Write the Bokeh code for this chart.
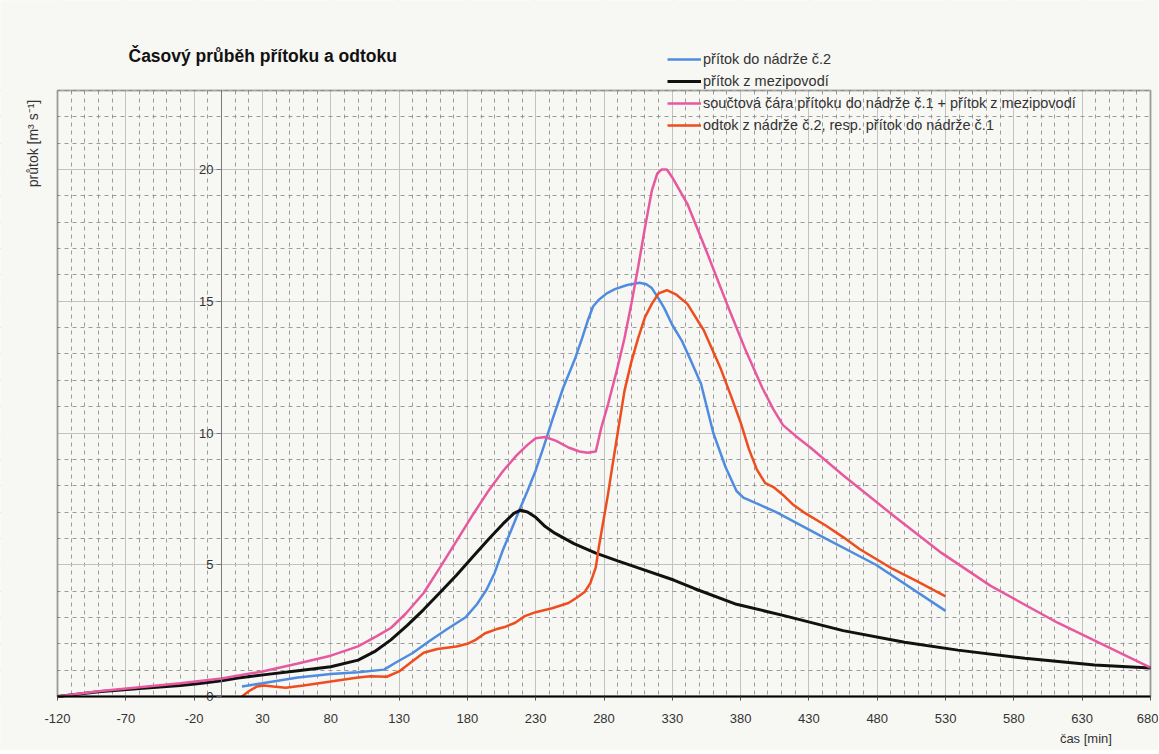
import math
from bokeh.plotting import figure
from bokeh.models import FixedTicker, Label, Legend, LegendItem, Range1d, BoxAnnotation
from bokeh.embed import file_html
from bokeh.resources import INLINE

# ---------------- data ----------------
x_ticks = [-120, -70, -20, 30, 80, 130, 180, 230, 280, 330, 380, 430, 480, 530, 580, 630, 680]
y_ticks = [0, 5, 10, 15, 20]

# přítok do nádrže č.2 (blue)
t_blue = [15, 30, 56, 80, 100, 119, 128, 140, 152, 165, 179, 187, 194, 200, 206, 212, 218, 224,
          230, 236, 242, 250, 259, 264, 268, 272, 276, 282, 288, 297, 306, 311, 315, 320, 324, 330,
          337, 344, 351, 360, 369, 377, 382, 395, 406, 442, 479, 530]
q_blue = [0.38, 0.5, 0.72, 0.85, 0.92, 1.02, 1.3, 1.65, 2.1, 2.55, 3.02, 3.5, 4.05, 4.7, 5.56, 6.3, 7.07, 7.8,
          8.58, 9.5, 10.47, 11.7, 12.85, 13.6, 14.25, 14.8, 15.05, 15.3, 15.46, 15.62, 15.7, 15.65, 15.5, 15.1, 14.75, 14.1,
          13.5, 12.7, 11.87, 10.0, 8.7, 7.8, 7.55, 7.25, 7.0, 6.0, 5.0, 3.25]

# přítok z mezipovodí (black)
t_black = [-120, -90, -60, -30, -16, 0, 12, 32, 56, 80, 100, 112, 124, 136, 148, 160, 172, 184, 196, 206,
           214, 219, 224, 230, 237, 244, 258, 274, 290, 305, 331, 346, 377, 411, 455, 500, 539, 588, 639, 680]
q_black = [0.0, 0.18, 0.3, 0.42, 0.49, 0.6, 0.7, 0.83, 0.98, 1.13, 1.38, 1.7, 2.15, 2.7, 3.3, 3.95, 4.6, 5.3, 6.0, 6.55,
           6.95, 7.07, 7.0, 6.8, 6.45, 6.2, 5.8, 5.44, 5.15, 4.88, 4.42, 4.1, 3.5, 3.08, 2.5, 2.06, 1.76, 1.45, 1.2, 1.08]

# součtová čára přítoku do nádrže č.1 + přítok z mezipovodí (pink)
t_pink = [-120, -90, -60, -30, 0, 30, 56, 80, 100, 114, 124, 135, 148, 160, 172, 184, 196, 206, 216, 224,
          230, 237, 245, 254, 262, 268, 274, 278, 283, 289, 295, 300, 305, 310, 315, 319, 322, 326, 330,
          341, 355, 370, 384, 396, 404, 411, 420, 431, 455, 491, 527, 563, 612, 680]
q_pink = [0.0, 0.2, 0.35, 0.5, 0.68, 0.95, 1.25, 1.55, 1.9, 2.3, 2.6, 3.15, 3.93, 4.9, 5.9, 6.9, 7.85, 8.55, 9.15, 9.55,
          9.8, 9.85, 9.7, 9.45, 9.3, 9.25, 9.3, 10.2, 11.1, 12.3, 13.6, 14.9, 16.3, 17.8, 19.2, 19.85, 20.0, 20.0, 19.7,
          18.7, 16.9, 14.9, 13.1, 11.7, 10.9, 10.3, 9.9, 9.45, 8.4, 6.9, 5.45, 4.2, 2.8, 1.1]

# odtok z nádrže č.2, resp. přítok do nádrže č.1 (orange-red)
t_red = [15, 20, 26, 31, 38, 47, 60, 80, 100, 109, 121, 130, 140, 148, 158, 172, 180, 186, 193, 201, 208,
         215, 222, 230, 242, 254, 260, 266, 270, 274, 276, 279, 283, 286, 290, 295, 300, 305, 310, 315, 320,
         326, 333, 341, 353, 365, 373, 380, 386, 392, 398, 404, 411, 418, 426, 442, 455, 467, 491, 510, 530]
q_red = [0.0, 0.2, 0.38, 0.42, 0.38, 0.33, 0.42, 0.57, 0.72, 0.77, 0.75, 0.95, 1.35, 1.66, 1.8, 1.9, 2.0, 2.15, 2.4, 2.55, 2.65,
         2.8, 3.05, 3.2, 3.35, 3.55, 3.75, 3.98, 4.3, 4.9, 5.6, 6.5, 7.7, 8.7, 10.0, 11.6, 12.7, 13.6, 14.4, 14.9, 15.3,
         15.42, 15.25, 14.9, 13.9, 12.5, 11.4, 10.4, 9.4, 8.6, 8.1, 7.95, 7.65, 7.3, 7.0, 6.5, 6.05, 5.6, 4.85, 4.35, 3.8]

legend_labels = ["přítok do nádrže č.2",
                 "přítok z mezipovodí",
                 "součtová čára přítoku do nádrže č.1 + přítok z mezipovodí",
                 "odtok z nádrže č.2, resp. přítok do nádrže č.1"]

# ---------------- layout / styling ----------------
BG = "#f7f7f3"
FONT = "Liberation Sans"
C_BLUE = "#4f8ce0"
C_BLACK = "#111111"
C_PINK = "#e8589f"
C_RED = "#ee4d1f"

W, H = 1158, 750                  # canvas size
ML, MR, MT, MB = 57, 8, 90, 54    # plot-area margins inside the canvas
X0, X1 = -120, 680
Y0, Y1 = 0, 23
sx = (W - ML - MR) / (X1 - X0)
sy = (H - MT - MB) / (Y1 - Y0)

p = figure(frame_width=W, frame_height=H,
           x_range=Range1d(X0 - ML / sx, X1 + MR / sx),
           y_range=Range1d(Y0 - MB / sy, Y1 + MT / sy),
           output_backend="svg", toolbar_location=None,
           min_border=0, min_border_left=0, min_border_right=0, min_border_top=0, min_border_bottom=0,
           background_fill_color=BG, border_fill_color=BG, outline_line_color=None)

# axes (drawn inside the frame at fixed data locations)
p.xaxis.ticker = FixedTicker(ticks=x_ticks,
                             minor_ticks=[v for v in range(-120, 681, 10) if v not in x_ticks])
p.yaxis.ticker = FixedTicker(ticks=y_ticks,
                             minor_ticks=[v for v in range(0, 24) if v not in y_ticks])
p.xaxis.major_label_overrides = {v: str(v) for v in x_ticks}
p.yaxis.major_label_overrides = {v: str(v) for v in y_ticks}
p.xaxis.fixed_location = 0
p.xaxis.bounds = (X0, X1)
p.xaxis.axis_line_color = "black"
p.xaxis.axis_line_width = 2
p.xaxis.major_tick_out = 4
p.xaxis.major_tick_in = 0
p.xaxis.major_tick_line_color = "#555555"
p.xaxis.minor_tick_line_color = None
p.xaxis.major_label_standoff = 13
p.xaxis.major_label_text_font = FONT
p.xaxis.major_label_text_font_size = "13px"
p.xaxis.major_label_text_color = "#333333"

p.yaxis.fixed_location = 0
p.yaxis.bounds = (Y0, Y1)
p.yaxis.axis_line_color = "#7a7a7a"
p.yaxis.axis_line_width = 1
p.yaxis.major_tick_out = 5
p.yaxis.major_tick_in = 0
p.yaxis.major_tick_line_color = "#7a7a7a"
p.yaxis.minor_tick_line_color = None
p.yaxis.major_label_standoff = 3
p.yaxis.major_label_text_font = FONT
p.yaxis.major_label_text_font_size = "13px"
p.yaxis.major_label_text_color = "#333333"

# grids
for g in (p.xgrid, p.ygrid):
    g.grid_line_color = "#c2c2c2"
    g.grid_line_width = 1
    g.minor_grid_line_color = "#8c8c8c"
    g.minor_grid_line_dash = "4 4"
    g.minor_grid_line_width = 1
    g.minor_grid_line_alpha = 0.85

# mask the grid outside the plot area
for kw in (dict(top=Y0), dict(bottom=Y1), dict(right=X0), dict(left=X1)):
    p.add_layout(BoxAnnotation(fill_color=BG, fill_alpha=1, line_color=None, level="underlay", **kw))

# plot-area border
p.add_layout(BoxAnnotation(left=X0, right=X1, bottom=Y0, top=Y1, fill_alpha=0,
                           line_color="black", line_width=2))

# lines
r_blue = p.line(t_blue, q_blue, line_color=C_BLUE, line_width=2.5)
r_black = p.line(t_black, q_black, line_color=C_BLACK, line_width=3)
r_pink = p.line(t_pink, q_pink, line_color=C_PINK, line_width=2.5)
r_red = p.line(t_red, q_red, line_color=C_RED, line_width=2.5)

legend = Legend(items=[LegendItem(label=legend_labels[0], renderers=[r_blue]),
                       LegendItem(label=legend_labels[1], renderers=[r_black]),
                       LegendItem(label=legend_labels[2], renderers=[r_pink]),
                       LegendItem(label=legend_labels[3], renderers=[r_red])],
                location=(667, 615), padding=0, margin=0, spacing=2,
                glyph_width=34, glyph_height=20, label_height=20, label_standoff=2,
                label_text_font=FONT, label_text_font_size="14.5px", label_text_color="#333333",
                border_line_color=None, background_fill_alpha=0)
p.add_layout(legend)

# title and axis labels
p.add_layout(Label(x=X0, y=Y1, x_offset=71, y_offset=35, text="Časový průběh přítoku a  odtoku",
                   text_font=FONT, text_font_size="17.5px", text_font_style="bold",
                   text_color="#111111", text_baseline="middle", text_align="left"))
p.add_layout(Label(x=X0, y=Y1, x_offset=-25, y_offset=-53, text="průtok [m³ s⁻¹]",
                   angle=math.pi / 2, text_font=FONT, text_font_size="14px",
                   text_color="#333333", text_baseline="middle", text_align="center"))
p.add_layout(Label(x=X1, y=Y0, x_offset=-35, y_offset=-42, text="čas  [min]",
                   text_font=FONT, text_font_size="13px",
                   text_color="#333333", text_baseline="middle", text_align="right"))

open("out.html", "w").write(file_html(p, INLINE))
